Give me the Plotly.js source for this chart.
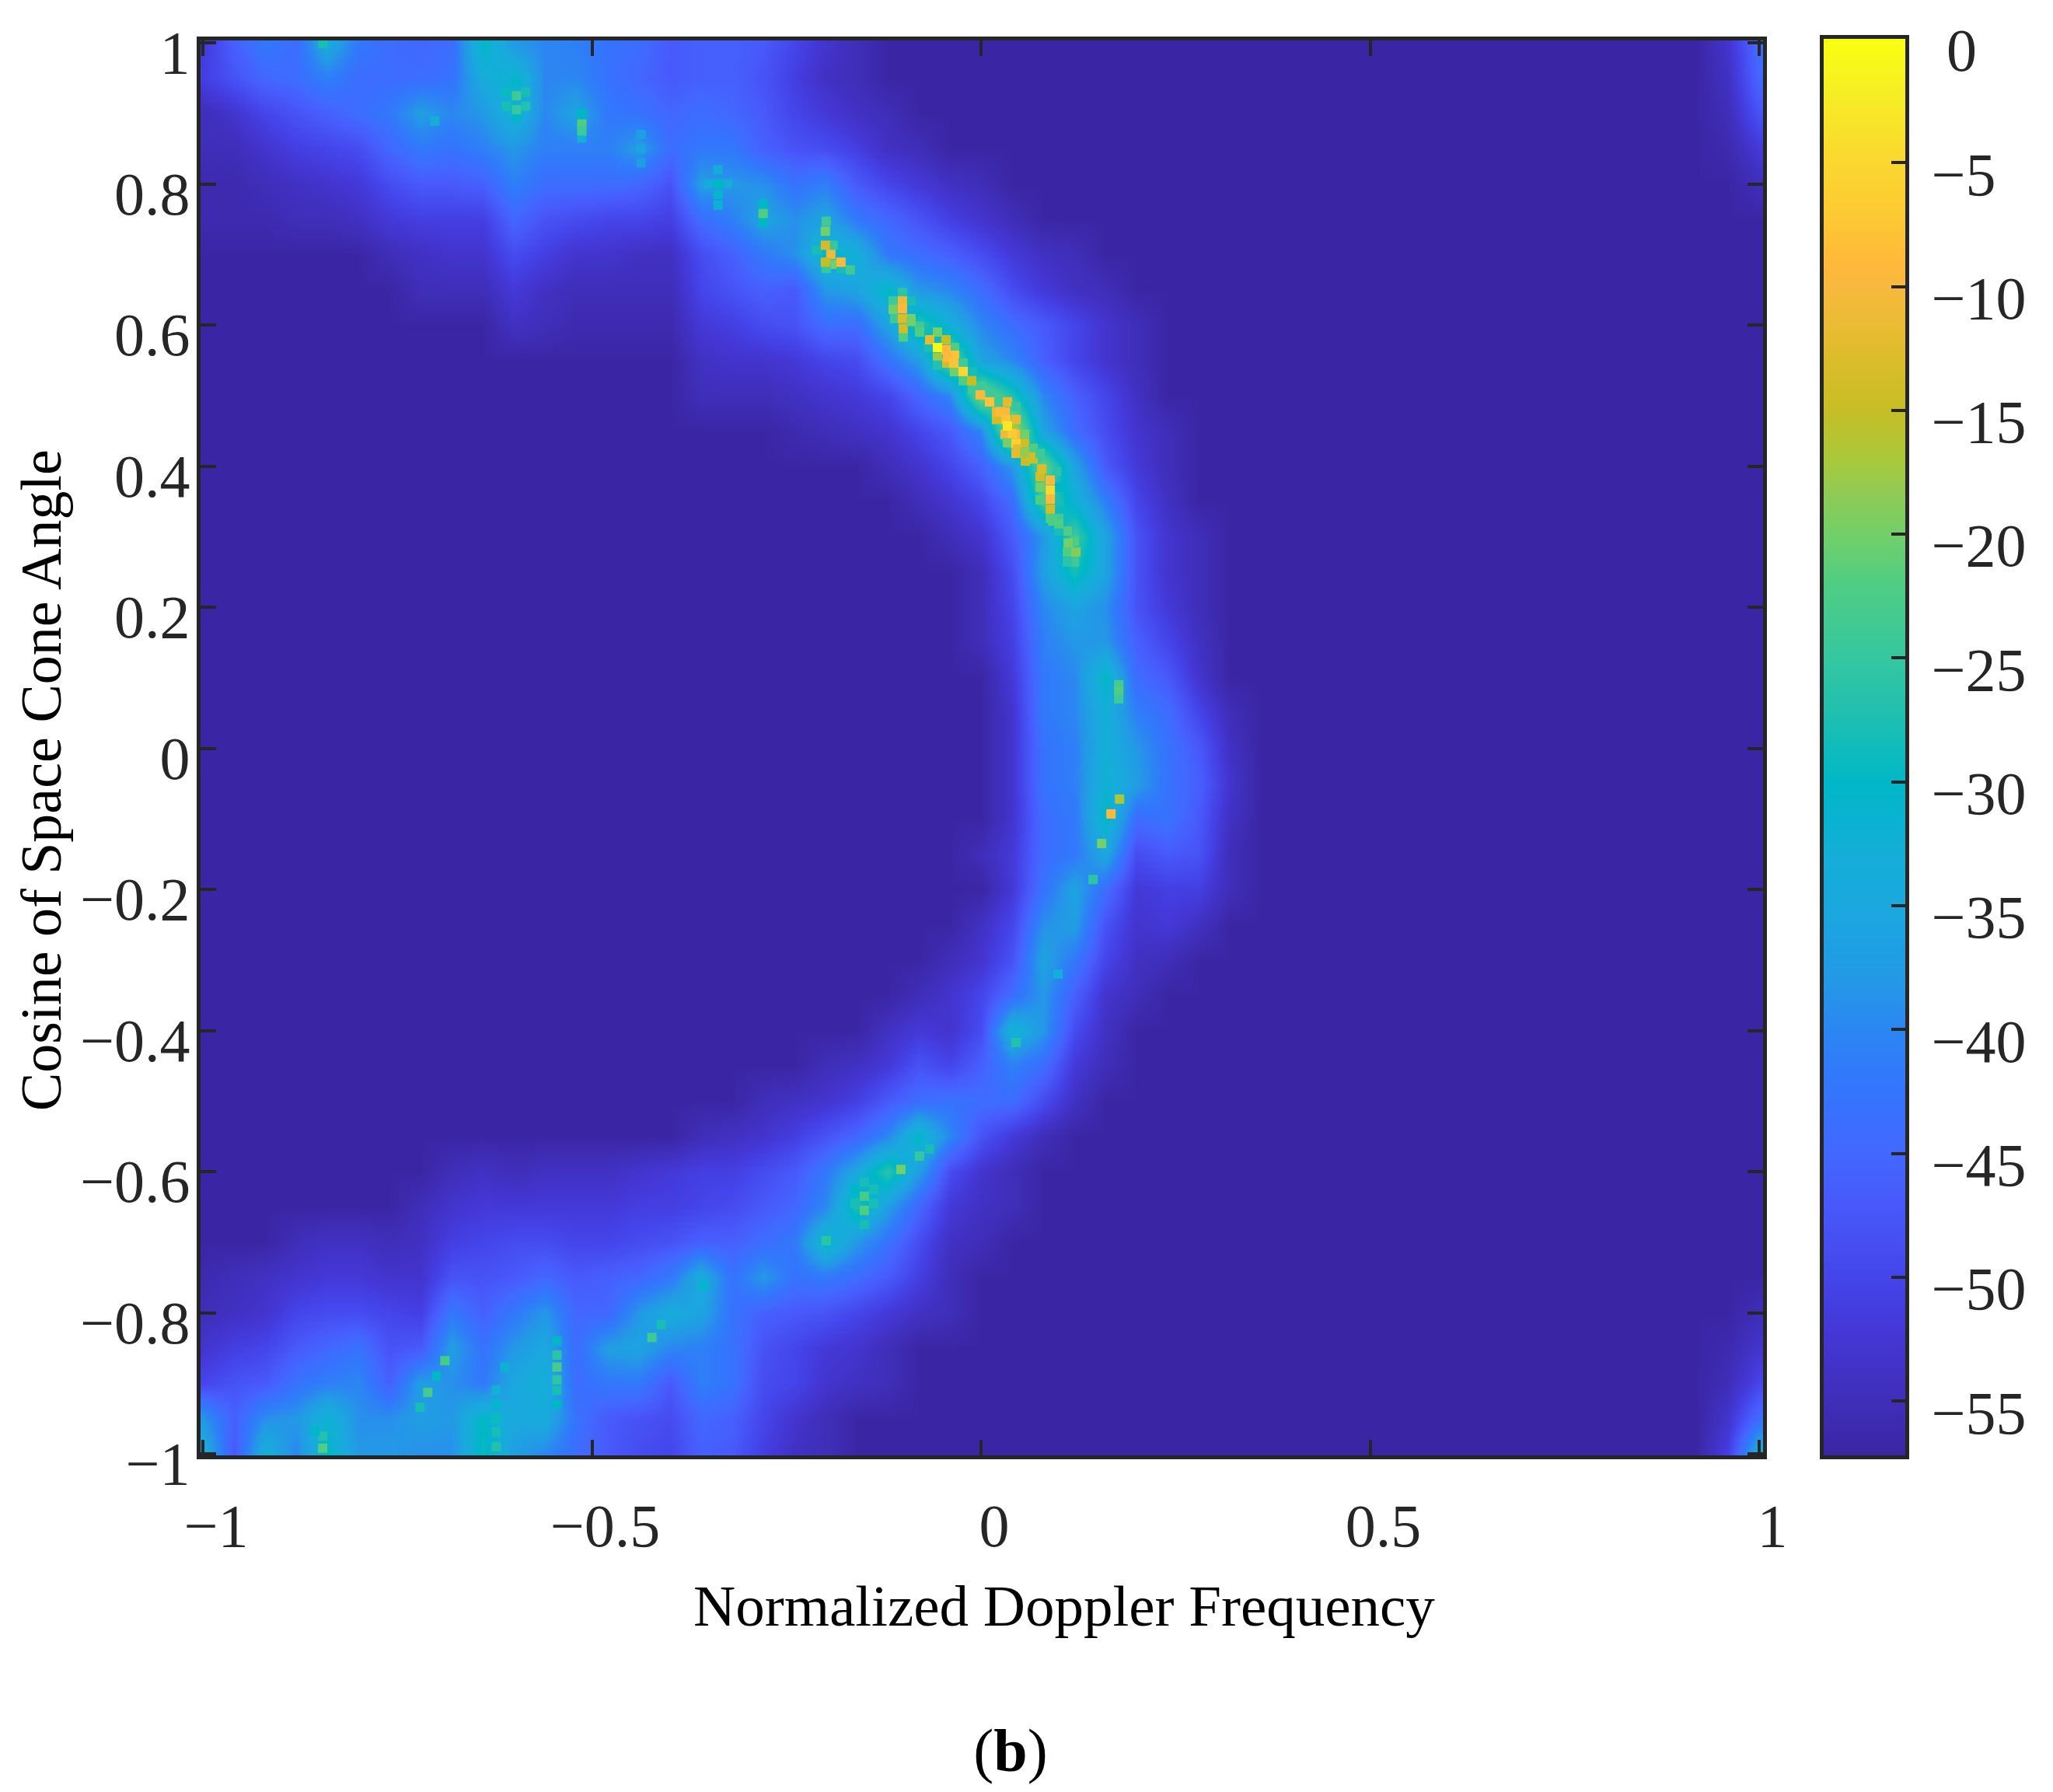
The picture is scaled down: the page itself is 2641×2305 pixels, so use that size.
<!DOCTYPE html>
<html>
<head>
<meta charset="utf-8">
<script src="https://cdn.plot.ly/plotly-3.0.1.min.js"></script>
<style>body{margin:0;background:#fff}</style>
</head>
<body>
<div id="chart" style="width:2641px;height:2305px"></div>
<script>
// clutter map values in dB
var freqX = [-1,-0.96,-0.92,-0.88,-0.84,-0.8,-0.76,-0.72,-0.68,-0.64,-0.6,-0.56,-0.52,-0.48,-0.44,-0.4,-0.36,-0.32,-0.28,-0.24,-0.2,-0.16,-0.12,-0.08,-0.04,0,0.04,0.08,0.12,0.16,0.2,0.24,0.28,0.32,0.36,0.92,0.96,1];
var cosY = [1,0.95,0.9,0.85,0.8,0.75,0.7,0.65,0.6,0.55,0.5,0.45,0.4,0.35,0.3,0.25,0.2,0.15,0.1,0.05,0,-0.05,-0.1,-0.15,-0.2,-0.25,-0.3,-0.35,-0.4,-0.45,-0.5,-0.55,-0.6,-0.65,-0.7,-0.75,-0.8,-0.85,-0.9,-0.95,-1];
var floorDb = -57;
// column where each row leaves the floor level (everything outside the list is floor)
var rowStart = [0,0,0,0,0,0,6,7,10,16,16,19,22,23,24,25,25,25,26,26,26,26,26,25,26,25,24,23,22,20,18,16,8,7,3,0,0,0,0,0,0];
var rowVals = [
[-52,-46,-42,-44,-34,-42,-44,-45,-44,-30,-38,-40,-41,-43,-44,-47,-46,-46,-47,-50,-53,-55],
[-51,-48,-45,-44,-41,-44,-44,-44,-43,-34,-31,-40,-40,-43,-45,-47,-46,-46,-48,-51,-54,-55],
[-55,-53,-50,-48,-46,-44,-42,-37,-40,-38,-32,-40,-36,-42,-43,-45,-44,-45,-47,-50,-52,-54,-55],
[-55,-55,-53,-51,-50,-49,-45,-42,-43,-41,-38,-41,-41,-41,-37,-44,-42,-42,-46,-48,-49,-51,-54,-55],
[-56,-56,-55,-54,-53,-52,-49,-47,-47,-46,-41,-44,-44,-44,-45,-48,-37,-38,-39,-43,-41,-47,-50,-52,-54,-55],
[-56,-56,-56,-55,-55,-54,-52,-51,-51,-51,-45,-48,-49,-50,-50,-51,-44,-41,-36,-39,-36,-42,-45,-48,-51,-53,-55],
[-55,-54,-53,-53,-49,-51,-53,-53,-54,-54,-49,-46,-42,-39,-30,-33,-42,-44,-46,-49,-52,-54,-55],
[-55,-55,-55,-52,-54,-55,-55,-55,-55,-50,-48,-46,-47,-38,-36,-30,-38,-40,-44,-49,-52,-54,-55],
[-54,-55,-56,-56,-56,-56,-52,-51,-49,-48,-44,-44,-36,-26,-33,-40,-44,-47,-50,-53,-55],
[-54,-53,-53,-52,-50,-49,-43,-37,-20,-36,-40,-46,-50,-53,-55],
[-55,-55,-55,-54,-53,-52,-50,-45,-40,-18,-27,-40,-46,-50,-54],
[-56,-55,-54,-53,-50,-47,-40,-14,-36,-44,-49,-53,-55],
[-55,-53,-50,-46,-38,-20,-36,-47,-52,-55],
[-55,-53,-50,-44,-24,-32,-41,-50,-54],
[-55,-53,-47,-38,-24,-36,-48,-53,-55],
[-55,-49,-37,-28,-36,-48,-53,-55],
[-55,-50,-40,-36,-39,-48,-52,-55],
[-55,-51,-41,-38,-38,-46,-50,-54],
[-52,-42,-40,-30,-44,-47,-53],
[-53,-42,-40,-33,-41,-44,-50,-55],
[-53,-43,-41,-33,-38,-43,-47,-54],
[-53,-43,-41,-32,-37,-43,-46,-53],
[-53,-44,-42,-30,-44,-43,-47,-54],
[-55,-52,-44,-42,-35,-49,-47,-48,-55],
[-52,-43,-36,-44,-52,-51,-51,-55],
[-54,-50,-39,-37,-48,-53,-52,-54],
[-55,-53,-48,-36,-42,-50,-54,-55],
[-55,-53,-50,-44,-38,-46,-53,-55],
[-54,-52,-53,-49,-32,-38,-49,-54],
[-55,-54,-52,-48,-50,-46,-41,-44,-52,-55],
[-55,-54,-53,-51,-47,-44,-43,-44,-44,-49,-54],
[-55,-54,-53,-51,-48,-45,-40,-30,-40,-48,-52,-55],
[-55,-54,-55,-54,-54,-54,-53,-52,-51,-51,-49,-47,-42,-35,-26,-37,-49,-53,-55],
[-55,-53,-52,-52,-52,-52,-52,-51,-51,-50,-49,-47,-45,-40,-27,-37,-45,-52,-54,-55],
[-55,-54,-54,-55,-54,-51,-50,-49,-49,-50,-50,-49,-48,-46,-46,-44,-42,-30,-38,-43,-49,-54,-55],
[-56,-55,-54,-53,-52,-52,-53,-53,-48,-48,-47,-45,-47,-46,-45,-42,-34,-43,-38,-43,-42,-44,-47,-51,-55],
[-55,-54,-53,-50,-49,-49,-50,-51,-42,-46,-42,-38,-45,-45,-38,-34,-36,-43,-46,-47,-48,-50,-52,-54,-55],
[-53,-51,-50,-47,-45,-43,-48,-47,-37,-43,-38,-35,-44,-37,-36,-40,-41,-43,-48,-50,-52,-53,-55],
[-50,-48,-47,-43,-41,-40,-46,-37,-39,-42,-35,-33,-44,-42,-42,-47,-41,-43,-49,-50,-53,-54,-55],
[-38,-46,-39,-38,-32,-39,-39,-37,-38,-30,-35,-34,-43,-47,-48,-49,-45,-46,-50,-53,-55],
[-33,-47,-33,-40,-30,-38,-38,-39,-39,-29,-37,-40,-44,-47,-49,-50,-46,-47,-51,-54,-55]
];
// small patches in the corners at the right edge, one value per row
var edge096 = [-53,-54,-55,-56,-57,-57,-57,-57,-57,-57,-57,-57,-57,-57,-57,-57,-57,-57,-57,-57,-57,-57,-57,-57,-57,-57,-57,-57,-57,-57,-57,-57,-57,-57,-57,-57,-57,-56,-55,-53,-51];
var edge100 = [-44,-45,-48,-52,-55,-57,-57,-57,-57,-57,-57,-57,-57,-57,-57,-57,-57,-57,-57,-57,-57,-57,-57,-57,-57,-57,-57,-57,-57,-57,-57,-57,-57,-57,-57,-57,-55,-53,-50,-44,-33];

// cells right beside the ridge and around the brighter blobs
var haloX = [-0.211,-0.211,-0.19,-0.19,-0.199,-0.18,-0.199,-0.113,-0.101,-0.113,-0.09,-0.111,-0.09,-0.079,-0.1,-0.079,-0.056,-0.045,-0.068,-0.056,-0.034,-0.045,-0.034,-0.056,-0.023,-0.034,-0.011,-0.023,-0.011,0,-0.011,0.012,0.024,0.034,0.045,0.02,0.02,0.031,0.045,0.031,0.045,0.056,0.034,0.056,0.045,0.057,0.067,0.057,0.067,0.076,0.076,0.076,0.1,0.076,0.1,0.089,0.1,0.111,0.1,0.12,0.111,0.12,0.097,0.111,
    -0.61,-0.61,-0.585,-0.585,-0.597,-0.597,-0.61,-0.585,-0.513,-0.513,-0.338,-0.338,-0.35,-0.326,-0.162,-0.138,-0.162,-0.138,-0.15,-0.15,-0.545,-0.545,-0.545,-0.623,-0.623,-0.28,-0.28,-0.437,-0.437,-0.846];
var haloY = [0.719,0.706,0.713,0.686,0.68,0.68,0.747,0.634,0.646,0.622,0.634,0.609,0.609,0.598,0.583,0.59,0.59,0.579,0.568,0.554,0.568,0.546,0.557,0.543,0.546,0.534,0.534,0.521,0.513,0.513,0.508,0.502,0.491,0.491,0.484,0.466,0.477,0.477,0.466,0.445,0.445,0.433,0.433,0.445,0.418,0.418,0.425,0.407,0.41,0.418,0.385,0.37,0.37,0.352,0.348,0.326,0.326,0.308,0.308,0.293,0.278,0.264,0.392,0.264,
    0.93,0.91,0.93,0.91,0.945,0.895,0.95,0.95,0.9,0.865,0.82,0.77,0.8,0.8,-0.645,-0.645,-0.625,-0.625,-0.615,-0.675,-0.84,-0.91,-0.93,-0.91,-0.93,0.772,0.745,0.87,0.83,-0.975];
var haloDb = [-33,-28,-25,-20,-25,-28,-24,-24,-26,-20,-28,-24,-20,-24,-22,-22,-20,-15,-28,-18,-22,-14,-8,-27,-24,-20,-28,-22,-17,-24,-24,-24,-24,-12,-25,-14,-12,-10,-12,-11,-9,-14,-20,-20,-12,-14,-22,-15,-16,-24,-14,-20,-30,-22,-28,-22,-24,-22,-28,-22,-22,-24,-26,-26,
    -29,-28,-28,-27,-30,-30,-33,-33,-30,-33,-34,-32,-34,-34,-28,-28,-30,-28,-28,-28,-30,-28,-30,-33,-31,-30,-30,-37,-37,-27];
// single bright cells along the ridge, too thin for the grid above
var peakX = [-0.28,-0.2,-0.2,-0.193,-0.18,-0.2,-0.168,-0.101,-0.101,-0.101,-0.1,-0.09,-0.066,-0.045,-0.043,-0.035,-0.023,-0.012,-0.001,0.011,0.024,0.032,0.04,0.045,0.047,0.064,0.078,0.089,0.089,0.089,0.089,0.056,-0.056,0.034,0.092,0.1,0.112,0.122,0.177,0.177,0.177,0.167,0.178,0.155,0.144,0.045,0.099,-0.597,-0.597,-0.513,-0.513,-0.846,-0.702,-0.338,-0.338,-0.437,-0.846,-0.856,-0.721,-0.711,-0.7,-0.689,-0.623,-0.623,-0.623,-0.612,-0.545,-0.545,-0.545,-0.423,-0.411,-0.356,-0.15,-0.15,-0.103,-0.079,-0.066,-0.199];
var peakY = [0.758,0.733,0.713,0.7,0.689,0.689,0.678,0.634,0.623,0.609,0.595,0.605,0.579,0.565,0.554,0.546,0.534,0.521,0.501,0.491,0.477,0.466,0.446,0.432,0.424,0.413,0.396,0.38,0.366,0.353,0.339,0.42,0.568,0.457,0.322,0.318,0.291,0.278,0.09,0.081,0.07,-0.093,-0.072,-0.135,-0.186,-0.417,-0.32,0.925,0.905,0.885,0.875,0.999,0.889,0.8,0.785,0.85,-0.992,-0.968,-0.934,-0.913,-0.89,-0.868,-0.95,-0.969,-0.99,-0.877,-0.86,-0.877,-0.895,-0.835,-0.817,-0.762,-0.635,-0.655,-0.597,-0.578,-0.568,-0.698];
var peakDb = [-22,-20,-14,-11,-9,-15,-24,-11,-9,-13,-14,-20,-12,-9,-9,-8,-5,-15,-10,-8,-9,-8,-7,-6,-12,-14,-13,-9,-5,-9,-14,-18,-1,-3,-22,-22,-20,-19,-23,-22,-24,-9,-17,-20,-26,-27,-33,-24,-25,-22,-24,-28,-33,-30,-31,-36,-22,-30,-28,-23,-30,-23,-29,-28,-27,-32,-26,-23,-26,-24,-28,-31,-23,-22,-20,-25,-28,-26];

// colour map of the bar
var cmapDb = [-57.2,-55,-52,-50,-47,-45,-42,-40,-38,-35,-33,-30,-27,-25,-22,-20,-18,-17,-15,-14,-12,-10,-9,-7,-5,-2,0];
var cmapColors = ['#3a25a3','#3f2eb9','#4438d8','#4445ea','#4859fb','#4267ff','#3178fc','#2c86f2','#2399e6','#1aa8de','#14aed8','#00b7c7','#22c0ae','#35c7a0','#4fcd83','#72cf69','#96ca50','#a9c93b','#c6be26','#d0bd27','#e6bb2f','#f8b93e','#feb93a','#fdca32','#fbd72f','#f6ef24','#faff10'];
var cbarDb = [-57.2,-56,-55,-54,-53,-52,-51,-50,-49,-48,-47,-46,-45,-44,-43,-42,-41,-40,-39,-38,-37,-36,-35,-34,-33,-32,-31,-30,-29,-28,-27,-26,-25,-24,-23,-22,-21,-20,-19,-18,-17,-16,-15,-14,-13,-12,-11,-10,-9,-8,-7,-6,-5,-4,-3,-2,-1,0];

var xTicks = [-1,-0.5,0,0.5,1];
var xTickText = ['\u22121','\u22120.5','0','0.5','1'];
var yTicks = [-1,-0.8,-0.6,-0.4,-0.2,0,0.2,0.4,0.6,0.8,1];
var yTickText = ['\u22121','\u22120.8','\u22120.6','\u22120.4','\u22120.2','0','0.2','0.4','0.6','0.8','1'];
var cbarTicks = [-55,-50,-45,-40,-35,-30,-25,-20,-15,-10,-5,0];
var cbarTickText = ['\u221255','\u221250','\u221245','\u221240','\u221235','\u221230','\u221225','\u221220','\u221215','\u221210','\u22125','\u00a00'];

var W = 2641, H = 2305;
var serif = 'Liberation Serif, Times New Roman, serif';
var dark = '#262626';

// grid with the floor filled in around the listed values
var zGrid = rowVals.map(function (vals, i) {
    var row = [];
    for (var c = 0; c < rowStart[i]; c++) row.push(floorDb);
    row = row.concat(vals);
    while (row.length < 36) row.push(floorDb);
    row.push(edge096[i]);
    row.push(edge100[i]);
    return row;
});

var colorscale = cmapDb.map(function (d, i) {
    return [(d - cmapDb[0]) / (0 - cmapDb[0]), cmapColors[i]];
});

function cells(xs, ys, dbs) {
    return {type: 'scatter', mode: 'markers', x: xs, y: ys, hoverinfo: 'skip', showlegend: false,
            marker: {symbol: 'square', size: 12, color: dbs, colorscale: colorscale, cmin: -57.2, cmax: 0, line: {width: 0}}};
}

var traces = [
    {type: 'heatmap', x: freqX, y: cosY.slice().reverse(), z: zGrid.slice().reverse(),
     colorscale: colorscale, zmin: -57.2, zmax: 0, zsmooth: 'best', showscale: false},
    cells(haloX, haloY, haloDb),
    cells(peakX, peakY, peakDb),
    {type: 'heatmap', x: [0, 1], y: cbarDb, z: cbarDb.map(function (d) { return [d, d]; }),
     xaxis: 'x2', yaxis: 'y2', colorscale: colorscale, zmin: -57.2, zmax: 0, zsmooth: 'best', showscale: false}
];

function axisBase() {
    return {showgrid: false, zeroline: false, showline: true, mirror: 'ticks', linecolor: dark, linewidth: 5,
            ticks: 'inside', ticklen: 20, tickwidth: 4, tickcolor: dark, tickmode: 'array',
            tickfont: {family: serif, size: 78, color: dark}};
}

var xa = axisBase();
xa.domain = [258 / W, 2268 / W];
xa.range = [-1.003, 1.005];
xa.tickvals = xTicks;
xa.ticktext = xTickText;
xa.ticklabelshift = 17;
xa.ticklabelstandoff = 18;

var ya = axisBase();
ya.domain = [1 - 1872 / H, 1 - 52 / H];
ya.range = [-1.0022, 1.0033];
ya.tickvals = yTicks;
ya.ticktext = yTickText;
ya.ticklabelshift = 12;
ya.ticklabelstandoff = -7;

var xb = {domain: [2346 / W, 2451 / W], range: [0, 1], anchor: 'y2', showgrid: false, zeroline: false, showline: true,
          mirror: true, linecolor: dark, linewidth: 5, ticks: '', showticklabels: false};

var yb = axisBase();
yb.domain = [1 - 1872 / H, 1 - 50 / H];
yb.range = [-57.19, 0];
yb.anchor = 'x2';
yb.side = 'right';
yb.mirror = true;
yb.ticklen = 18;
yb.tickvals = cbarTicks;
yb.ticktext = cbarTickText;
yb.ticklabelshift = 14;
yb.ticklabelstandoff = 13;

var layout = {
    width: W, height: H,
    margin: {l: 0, r: 0, t: 0, b: 0, pad: 0},
    paper_bgcolor: '#fff', plot_bgcolor: '#fff',
    showlegend: false,
    title: {text: '(<b>b</b>)', xref: 'paper', yref: 'container', x: 1300 / W, xanchor: 'center',
            y: 1 - 2251 / H, yanchor: 'middle', font: {family: serif, size: 78, color: '#000'}},
    xaxis: xa, yaxis: ya, xaxis2: xb, yaxis2: yb,
    annotations: [
        {text: 'Normalized Doppler Frequency', xref: 'paper', yref: 'paper', showarrow: false,
         x: 1369 / W, y: 1 - 2065 / H, xanchor: 'center', yanchor: 'middle',
         font: {family: serif, size: 75, color: '#000'}},
        {text: 'Cosine of Space Cone Angle', xref: 'paper', yref: 'paper', showarrow: false, textangle: -90,
         x: 53 / W, y: 1 - 1004 / H, xanchor: 'center', yanchor: 'middle',
         font: {family: serif, size: 74, color: '#000'}}
    ]
};

Plotly.newPlot('chart', traces, layout, {displayModeBar: false, staticPlot: true});
</script>
</body>
</html>
